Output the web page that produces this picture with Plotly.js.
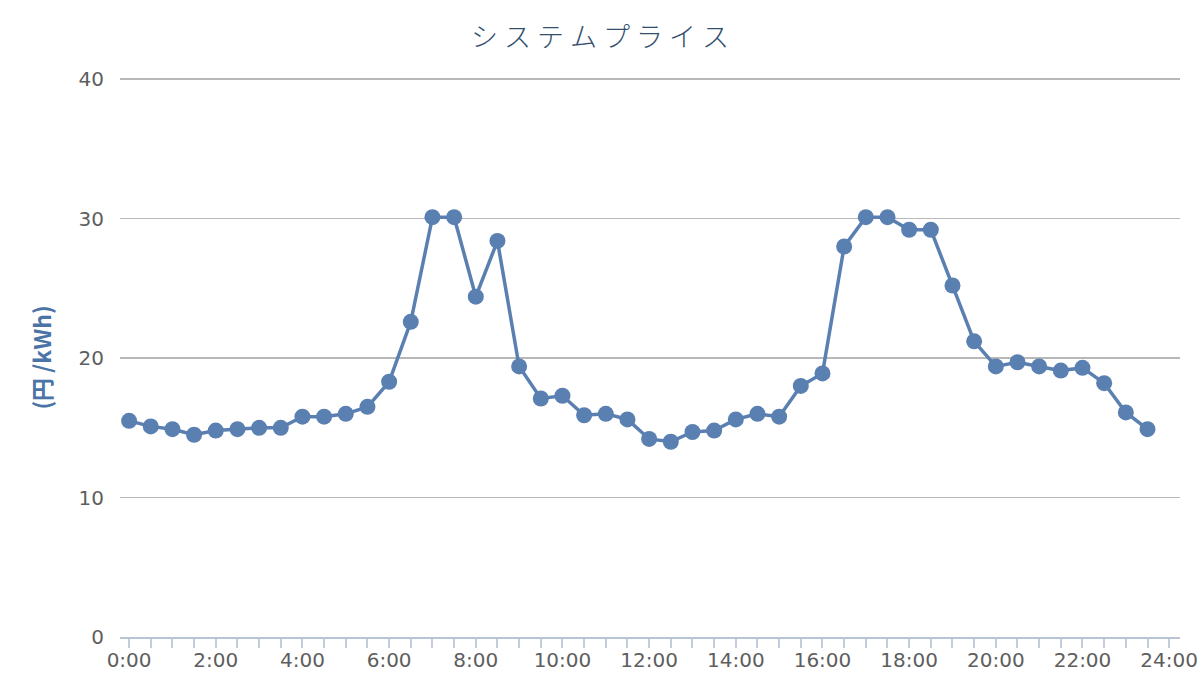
<!DOCTYPE html>
<html><head><meta charset="utf-8">
<script src="https://cdn.plot.ly/plotly-3.0.1.min.js"></script>
<style>html,body{margin:0;padding:0;background:#fff;}</style>
</head><body>
<div id="chart" style="width:1200px;height:700px;"></div>
<script>
const times = ["0:00","0:30","1:00","1:30","2:00","2:30","3:00","3:30","4:00","4:30","5:00","5:30",
"6:00","6:30","7:00","7:30","8:00","8:30","9:00","9:30","10:00","10:30","11:00","11:30",
"12:00","12:30","13:00","13:30","14:00","14:30","15:00","15:30","16:00","16:30","17:00","17:30",
"18:00","18:30","19:00","19:30","20:00","20:30","21:00","21:30","22:00","22:30","23:00","23:30"];
const prices = [15.5,15.1,14.9,14.5,14.8,14.9,15.0,15.0,15.8,15.8,16.0,16.5,
18.3,22.6,30.1,30.1,24.4,28.4,19.4,17.1,17.3,15.9,16.0,15.6,
14.2,14.0,14.7,14.8,15.6,16.0,15.8,18.0,18.9,28.0,30.1,30.1,
29.2,29.2,25.2,21.2,19.4,19.7,19.4,19.1,19.3,18.2,16.1,14.9];
const tickLabels = ["0:00","2:00","4:00","6:00","8:00","10:00","12:00","14:00","16:00","18:00","20:00","22:00","24:00"];

function toHours(t){const p=t.split(":");return +p[0]+(+p[1])/60;}
const xs = times.map(toHours);
const tickVals = tickLabels.map(toHours);

const trace = {
  x: xs, y: prices, text: times, type: 'scatter', mode: 'lines+markers',
  line: {color: '#5a7fb1', width: 3.5},
  marker: {color: '#5a7fb1', size: 16},
  hovertemplate: '%{text}: %{y}<extra></extra>'
};
const layout = {
  width: 1200, height: 700,
  margin: {l: 120, r: 20, t: 78, b: 63},
  paper_bgcolor: '#fff', plot_bgcolor: '#fff',
  showlegend: false,
  title: {text: 'シ ス テ ム プ ラ イ ス', x: 0.5, xanchor: 'center', y: 0.947, yanchor: 'middle',
    font: {family: '"Noto Sans CJK JP", sans-serif', size: 27, color: '#34506f', weight: 300}},
  xaxis: {
    range: [-0.21, 24.25], tickmode: 'array', tickvals: tickVals, ticktext: tickLabels,
    showgrid: false, zeroline: false, showline: true, linecolor: '#b9c5d6', linewidth: 2,
    ticks: 'outside', ticklen: 9, tickwidth: 2, tickcolor: '#c3cddc', ticklabelstandoff: -5,
    minor: {dtick: 0.5, tick0: 0, ticks: 'outside', ticklen: 9, tickwidth: 2, tickcolor: '#c3cddc', showgrid: false},
    tickfont: {family: '"DejaVu Sans", sans-serif', size: 20, color: '#5e5e5e'}
  },
  yaxis: {
    range: [0, 40.08], tickvals: [0,10,20,30,40], showgrid: true, gridcolor: '#b8b8b8', gridwidth: 1.5,
    zeroline: false, showline: false, ticks: '', ticklabelstandoff: 15,
    tickfont: {family: '"DejaVu Sans", sans-serif', size: 20, color: '#5e5e5e'},
    title: {text: '(円 /kWh)', standoff: 20,
      font: {family: '"Noto Sans CJK JP", sans-serif', size: 23, color: '#4a74a6', weight: 700}}
  }
};
Plotly.newPlot('chart', [trace], layout, {displayModeBar: false, staticPlot: true});
</script>
</body></html>
